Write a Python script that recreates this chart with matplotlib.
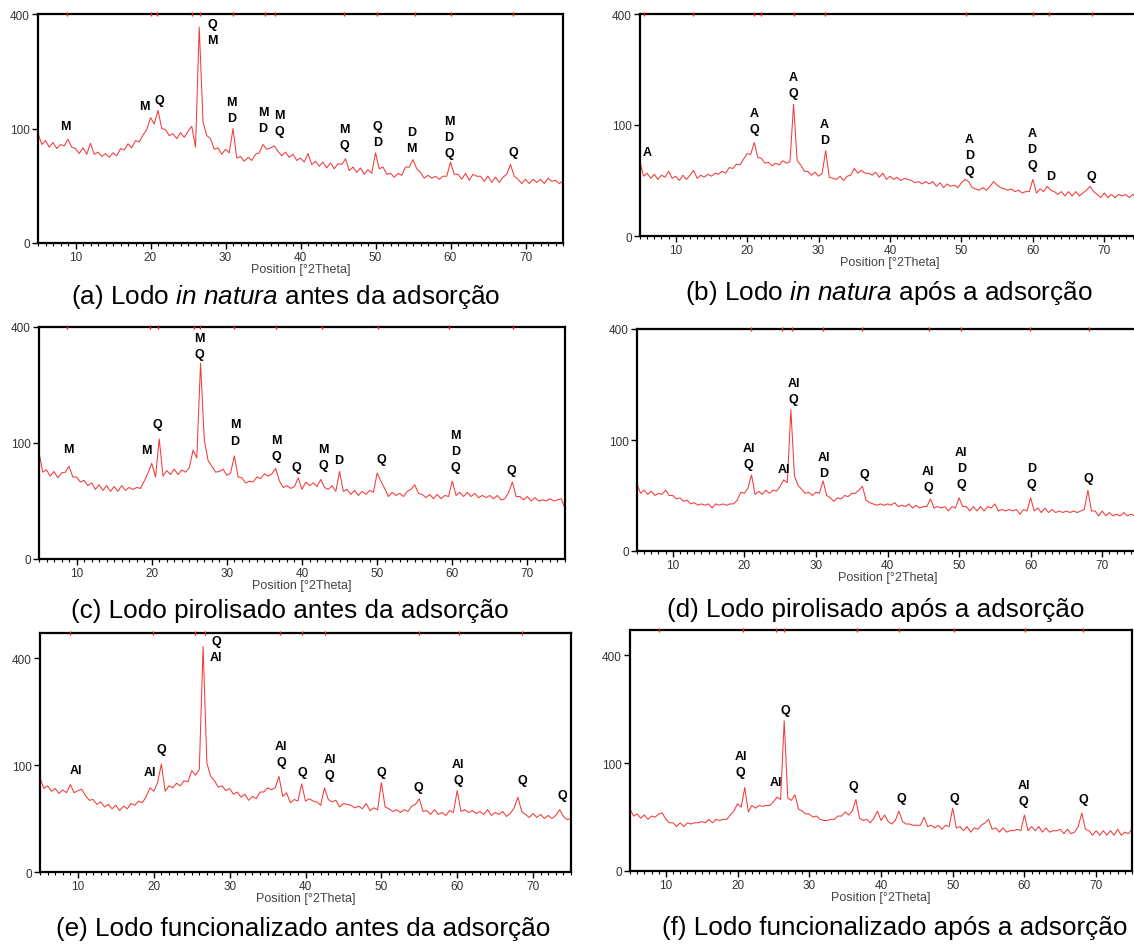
import numpy as np
import matplotlib
matplotlib.use("Agg")
import matplotlib.pyplot as plt

plt.rcParams['font.family'] = ['Liberation Sans', 'DejaVu Sans']
plt.rcParams['mathtext.fontset'] = 'custom'
plt.rcParams['mathtext.rm'] = 'Liberation Sans'
plt.rcParams['mathtext.it'] = 'Liberation Sans:italic'

# 2theta grid of the digitised patterns (deg)
two_theta = np.arange(5.0, 75.01, 0.5)

# (a) Lodo in natura antes da adsorcao
counts_a = [92, 74, 80, 70, 77, 68, 74, 72, 82, 70,
            68, 61, 69, 60, 76, 60, 63, 57, 61, 56,
            62, 58, 68, 66, 75, 69, 80, 78, 89, 98,
            120, 108, 134, 100, 98, 88, 91, 83, 93, 85,
            95, 104, 70, 355, 112, 88, 83, 67, 69, 60,
            67, 62, 100, 55, 57, 51, 56, 52, 60, 62,
            74, 67, 69, 72, 64, 58, 63, 56, 60, 52,
            55, 50, 61, 47, 51, 45, 50, 43, 49, 42,
            48, 47, 54, 40, 44, 38, 43, 36, 41, 37,
            62, 42, 44, 36, 37, 33, 37, 35, 44, 44,
            53, 42, 38, 32, 35, 32, 34, 31, 34, 34,
            50, 36, 36, 31, 37, 30, 36, 34, 34, 29,
            34, 28, 33, 28, 33, 36, 47, 34, 31, 27,
            31, 27, 31, 28, 31, 27, 32, 29, 30, 27, 29]

# (b) Lodo in natura apos a adsorcao
counts_b = [44, 29, 32, 27, 31, 26, 30, 28, 34, 27,
            29, 25, 30, 26, 30, 35, 27, 30, 28, 31,
            29, 32, 31, 34, 32, 38, 37, 42, 41, 48,
            55, 54, 71, 50, 49, 43, 44, 40, 43, 41,
            46, 43, 45, 141, 46, 41, 34, 34, 30, 33,
            29, 32, 59, 28, 27, 26, 29, 25, 29, 30,
            37, 32, 35, 32, 32, 30, 33, 28, 32, 26,
            29, 26, 28, 25, 27, 26, 25, 23, 24, 22,
            24, 22, 24, 20, 23, 19, 22, 20, 21, 19,
            23, 26, 24, 19, 18, 17, 19, 17, 20, 24,
            21, 19, 18, 17, 18, 16, 17, 15, 16, 16,
            26, 15, 18, 16, 20, 17, 16, 14, 16, 13,
            16, 13, 16, 13, 15, 17, 20, 16, 14, 12,
            15, 12, 14, 12, 14, 13, 14, 12, 14, 12, 13]

# (c) Lodo pirolisado antes da adsorcao
counts_c = [84, 56, 59, 51, 57, 49, 55, 56, 64, 50,
            50, 44, 46, 40, 43, 36, 41, 35, 40, 34,
            39, 34, 40, 35, 38, 36, 38, 37, 45, 55,
            68, 50, 107, 51, 58, 53, 60, 53, 59, 56,
            62, 88, 76, 285, 105, 72, 64, 56, 57, 60,
            52, 55, 79, 50, 49, 43, 45, 44, 50, 48,
            54, 51, 54, 61, 45, 38, 40, 37, 39, 49,
            36, 44, 40, 43, 39, 47, 38, 36, 40, 34,
            57, 34, 36, 31, 35, 30, 34, 31, 35, 33,
            55, 45, 37, 29, 33, 30, 32, 29, 34, 36,
            41, 32, 31, 28, 31, 27, 31, 27, 30, 29,
            45, 30, 33, 29, 33, 29, 32, 28, 30, 28,
            30, 27, 30, 26, 27, 33, 44, 29, 29, 26,
            29, 25, 28, 25, 26, 25, 27, 25, 26, 27, 19]

# (d) Lodo pirolisado apos a adsorcao
counts_d = [36, 27, 30, 26, 29, 25, 27, 26, 30, 25,
            25, 22, 23, 20, 21, 18, 19, 17, 18, 17,
            18, 15, 18, 17, 18, 17, 18, 18, 21, 28,
            27, 32, 47, 26, 29, 26, 30, 27, 30, 29,
            34, 41, 38, 162, 46, 35, 31, 27, 28, 25,
            28, 27, 40, 25, 23, 20, 23, 22, 25, 24,
            27, 27, 30, 34, 21, 19, 18, 17, 18, 17,
            18, 17, 19, 16, 17, 16, 18, 15, 17, 15,
            16, 16, 22, 15, 16, 15, 16, 13, 16, 15,
            23, 16, 16, 13, 16, 13, 16, 13, 16, 15,
            18, 13, 14, 13, 14, 13, 14, 11, 14, 13,
            23, 13, 15, 12, 15, 12, 14, 12, 13, 12,
            13, 12, 13, 12, 13, 14, 30, 13, 13, 10,
            13, 10, 12, 10, 11, 10, 12, 10, 11, 10, 10]

# (e) Lodo funcionalizado antes da adsorcao
counts_e = [78, 61, 65, 57, 61, 54, 59, 55, 67, 55,
            58, 60, 51, 45, 46, 40, 43, 37, 40, 35,
            39, 33, 38, 35, 41, 39, 44, 42, 50, 62,
            57, 70, 102, 57, 65, 62, 69, 65, 73, 71,
            90, 82, 92, 445, 104, 80, 73, 63, 65, 58,
            61, 53, 56, 49, 53, 45, 50, 47, 56, 56,
            62, 59, 62, 80, 50, 55, 42, 46, 44, 68,
            44, 47, 44, 43, 39, 62, 46, 43, 45, 37,
            41, 40, 39, 36, 38, 35, 41, 33, 36, 34,
            70, 37, 35, 32, 34, 31, 34, 32, 38, 40,
            47, 32, 33, 29, 34, 29, 31, 28, 33, 31,
            58, 32, 34, 31, 33, 30, 32, 29, 34, 28,
            31, 29, 32, 27, 30, 36, 49, 32, 29, 26,
            30, 26, 29, 25, 28, 25, 28, 34, 27, 24, 25]

# (f) Lodo funcionalizado apos a adsorcao
counts_f = [33, 26, 28, 24, 27, 23, 26, 25, 28, 29,
            23, 20, 20, 17, 20, 17, 20, 19, 20, 20,
            21, 20, 23, 20, 23, 22, 23, 23, 27, 31,
            39, 35, 60, 30, 37, 34, 37, 36, 37, 37,
            41, 47, 44, 194, 46, 43, 50, 33, 31, 28,
            28, 25, 26, 23, 22, 22, 23, 23, 26, 26,
            30, 27, 31, 44, 24, 22, 23, 20, 24, 31,
            22, 27, 21, 19, 22, 31, 21, 19, 19, 18,
            18, 18, 25, 17, 18, 16, 18, 15, 18, 17,
            34, 16, 17, 14, 17, 13, 16, 15, 18, 20,
            23, 15, 16, 13, 16, 13, 14, 14, 15, 14,
            27, 14, 17, 14, 17, 13, 16, 13, 14, 14,
            15, 12, 15, 12, 13, 17, 29, 15, 14, 11,
            14, 11, 14, 11, 14, 11, 15, 11, 13, 12, 15]

# phase labels: (2theta, counts at bottom of label, text)
labels_a = [(8.6, 94, "M"), (19.2, 130, "M"), (21.2, 143, "Q"), (28.2, 297, "Q\nM"),
            (30.8, 108, "M\nD"), (35.0, 91, "M\nD"), (37.2, 86, "M\nQ"), (45.8, 64, "M\nQ"),
            (50.3, 69, "Q\nD"), (54.8, 61, "D\nM"), (59.8, 54, "M\nD\nQ"), (68.4, 55, "Q")]
labels_b = [(6.0, 50, "A"), (21.0, 83, "A\nQ"), (26.5, 152, "A\nQ"), (30.8, 66, "A\nD"),
            (51.1, 28, "A\nD\nQ"), (59.9, 34, "A\nD\nQ"), (62.5, 24, "D"), (68.2, 24, "Q")]
labels_c = [(8.9, 81, "M"), (19.3, 79, "M"), (20.8, 123, "Q"), (26.4, 293, "M\nQ"),
            (31.1, 94, "M\nD"), (36.6, 70, "M\nQ"), (39.2, 55, "Q"), (42.8, 57, "M\nQ"),
            (44.9, 64, "D"), (50.6, 66, "Q"), (60.4, 55, "M\nD\nQ"), (67.9, 51, "Q")]
labels_d = [(20.6, 53, "Al\nQ"), (25.5, 47, "Al"), (26.9, 172, "Al\nQ"), (31.1, 42, "Al\nD"),
            (36.8, 41, "Q"), (45.7, 27, "Al\nQ"), (50.3, 30, "Al\nD\nQ"), (60.1, 30, "D\nQ"),
            (68.1, 36, "Q")]
labels_e = [(9.7, 80, "Al"), (19.5, 78, "Al"), (21.0, 119, "Q"), (28.2, 381, "Q\nAl"),
            (36.8, 94, "Al\nQ"), (39.6, 78, "Q"), (43.2, 72, "Al\nQ"), (50.0, 78, "Q"),
            (54.9, 54, "Q"), (60.1, 65, "Al\nQ"), (68.6, 64, "Q"), (73.9, 44, "Q")]
labels_f = [(20.4, 74, "Al\nQ"), (25.4, 60, "Al"), (26.7, 208, "Q"), (36.2, 54, "Q"),
            (42.9, 39, "Q"), (50.3, 39, "Q"), (59.9, 35, "Al\nQ"), (68.2, 37, "Q")]

# reference peak marks on the top frame
refs_a = [8.9, 20.0, 20.9, 25.5, 26.6, 31.0, 35.2, 36.6, 45.8, 50.2, 55.3, 60.0, 68.3]
refs_b = [5.6, 12.4, 21.0, 22.0, 26.6, 30.9, 50.7, 60.0, 62.2, 68.3]
refs_c = [8.7, 19.8, 20.9, 25.6, 26.4, 30.9, 36.6, 42.6, 50.1, 59.6, 68.1]
refs_d = [20.9, 25.2, 26.6, 31.0, 36.5, 45.8, 50.2, 59.9, 68.1]
refs_e = [8.9, 19.9, 25.4, 26.7, 36.6, 39.5, 42.6, 54.9, 60.2, 68.5]
refs_f = [9.1, 20.8, 25.4, 26.5, 36.7, 42.5, 50.2, 60.1, 68.2]

captions = [r"(a) Lodo $\mathit{in\ natura}$ antes da adsorção",
            r"(b) Lodo $\mathit{in\ natura}$ após a adsorção",
            "(c) Lodo pirolisado antes da adsorção",
            "(d) Lodo pirolisado após a adsorção",
            "(e) Lodo funcionalizado antes da adsorção",
            "(f) Lodo funcionalizado após a adsorção"]

W, H = 1134, 945


def rect(l, r, t, b):
    return [l / W, 1 - b / H, (r - l) / W, (b - t) / H]


panels = [
    (counts_a, labels_a, refs_a, 400, rect(38, 563, 15, 244), (286, 297)),
    (counts_b, labels_b, refs_b, 400, rect(640, 1140, 15, 237), (889, 293)),
    (counts_c, labels_c, refs_c, 400, rect(39, 565, 328, 560), (290, 611)),
    (counts_d, labels_d, refs_d, 400, rect(637, 1138, 330, 552), (876, 610)),
    (counts_e, labels_e, refs_e, 500, rect(40, 571, 634, 873), (303, 929)),
    (counts_f, labels_f, refs_f, 500, rect(630, 1132, 631, 872), (895, 928)),
]

fig = plt.figure(figsize=(W / 100, H / 100), dpi=100)

for (counts, labels, refs, ytop, pos, cap_xy), cap in zip(panels, captions):
    ax = fig.add_axes(pos)
    ax.set_yscale('function', functions=(lambda v: np.sqrt(np.maximum(v, 0)), np.square))
    ax.plot(two_theta, counts, color='#f23a3a', lw=0.75)
    ax.set_xlim(5, 75)
    ax.set_ylim(0, ytop)
    ax.plot(refs, [ytop] * len(refs), ls='none', marker='|', color='#e82020', ms=3, mew=1,
            clip_on=False, zorder=4)
    for x, y, txt in labels:
        ax.text(x, y, txt, ha='center', va='bottom', fontsize=9, fontweight='bold',
                linespacing=1.45)
    ax.set_yticks([0, 100, 400])
    ax.set_xticks(range(10, 71, 10))
    ax.set_xticks(range(5, 76), minor=True)
    ax.tick_params(axis='both', which='major', length=4, width=1, labelsize=8.5,
                   labelcolor='#333333', pad=2)
    ax.tick_params(axis='x', which='minor', length=2, width=0.8)
    ax.set_xlabel('Position [°2Theta]', fontsize=9, color='#444444', labelpad=0)
    for s in ax.spines.values():
        s.set_linewidth(1.6)
    fig.text(cap_xy[0] / W, 1 - cap_xy[1] / H, cap, ha='center', va='center', fontsize=18.8)

fig.savefig('out.png', dpi=100)
